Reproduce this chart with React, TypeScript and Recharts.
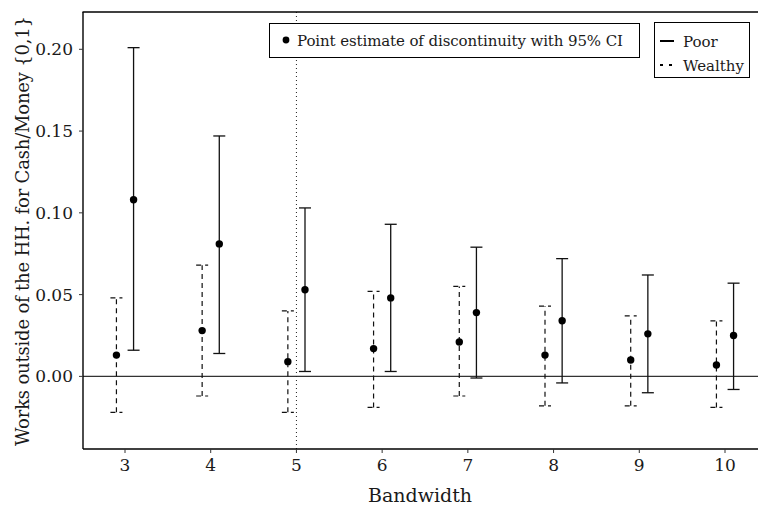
import React from "react";
import {
  ComposedChart,
  Scatter,
  ErrorBar,
  XAxis,
  YAxis,
  ReferenceLine,
} from "recharts";

const bandwidths = [3, 4, 5, 6, 7, 8, 9, 10];

const poorEst = [0.108, 0.081, 0.053, 0.048, 0.039, 0.034, 0.026, 0.025];
const poorLow = [0.016, 0.014, 0.003, 0.003, -0.001, -0.004, -0.010, -0.008];
const poorHigh = [0.201, 0.147, 0.103, 0.093, 0.079, 0.072, 0.062, 0.057];

const wealthyEst = [0.013, 0.028, 0.009, 0.017, 0.021, 0.013, 0.010, 0.007];
const wealthyLow = [-0.022, -0.012, -0.022, -0.019, -0.012, -0.018, -0.018, -0.019];
const wealthyHigh = [0.048, 0.068, 0.040, 0.052, 0.055, 0.043, 0.037, 0.034];

const yTicks = [0, 0.05, 0.1, 0.15, 0.2];

const DODGE = 0.1;
const FONT = "DejaVu Serif";
const INK = "#1a1a1a";

function build(est: number[], low: number[], high: number[], shift: number) {
  return bandwidths.map((bw, i) => ({
    x: bw + shift,
    y: est[i],
    err: [est[i] - low[i], high[i] - est[i]],
  }));
}

const wealthyData = build(wealthyEst, wealthyLow, wealthyHigh, -DODGE);
const poorData = build(poorEst, poorLow, poorHigh, DODGE);

const Dot = (props: any) => {
  const { cx, cy } = props;
  if (cx == null || cy == null) return null;
  return <circle cx={cx} cy={cy} r={3.7} fill="#000" />;
};

export default function App() {
  const tickStyle = { fontFamily: FONT, fontSize: 17, fill: INK };
  const txt = { fontFamily: FONT };
  return (
    <div style={{ position: "absolute", left: 0, top: 0, width: 758, height: 509, background: "#fff" }}>
      <ComposedChart
        width={758}
        height={509}
        margin={{ top: 12, right: 0, bottom: 0, left: 0 }}
      >
        <XAxis
          type="number"
          dataKey="x"
          domain={[2.51, 10.385]}
          ticks={bandwidths}
          allowDataOverflow
          height={60}
          tick={tickStyle}
          tickSize={4}
          tickMargin={6}
          axisLine={{ stroke: "#000", strokeWidth: 1.4 }}
          tickLine={{ stroke: "#333" }}
        />
        <YAxis
          type="number"
          domain={[-0.0444, 0.2228]}
          ticks={yTicks}
          allowDataOverflow
          width={83}
          tick={tickStyle}
          tickSize={4}
          tickMargin={6}
          tickFormatter={(v: number) => v.toFixed(2)}
          axisLine={{ stroke: "#000", strokeWidth: 1.4 }}
          tickLine={{ stroke: "#333" }}
        />
        <ReferenceLine y={0} stroke="#333" strokeWidth={1.2} />
        <ReferenceLine x={5} stroke="#222" strokeWidth={1} strokeDasharray="1 3" />
        <Scatter data={wealthyData} dataKey="y" shape={Dot} isAnimationActive={false}>
          <ErrorBar
            dataKey="err"
            direction="y"
            width={6}
            stroke="#111"
            strokeWidth={1.2}
            strokeDasharray="5 4"
            isAnimationActive={false}
          />
        </Scatter>
        <Scatter data={poorData} dataKey="y" shape={Dot} isAnimationActive={false}>
          <ErrorBar
            dataKey="err"
            direction="y"
            width={6}
            stroke="#111"
            strokeWidth={1.3}
            isAnimationActive={false}
          />
        </Scatter>
      </ComposedChart>
      <svg
        width={758}
        height={509}
        style={{ position: "absolute", left: 0, top: 0, pointerEvents: "none" }}
      >
        <line x1={82.5} y1={12} x2={758} y2={12} stroke="#000" strokeWidth={1.4} />
        <rect x={269.5} y={23.5} width={370} height={34} fill="#fff" stroke="#000" strokeWidth={1} />
        <circle cx={286} cy={40} r={3.4} fill="#000" />
        <text x={297} y={45.5} fontSize={15} fill={INK} textLength={326} style={txt}>
          Point estimate of discontinuity with 95% CI
        </text>
        <rect x={654.5} y={22.5} width={95} height={55} fill="#fff" stroke="#000" strokeWidth={1} />
        <line x1={660} y1={41} x2={674} y2={41} stroke="#000" strokeWidth={2} />
        <text x={683} y={46.5} fontSize={15} fill={INK} style={txt}>Poor</text>
        <line x1={660} y1={65} x2={674} y2={65} stroke="#000" strokeWidth={2} strokeDasharray="3 6" />
        <text x={683} y={70.5} fontSize={15} fill={INK} style={txt}>Wealthy</text>
        <text x={420} y={495} fontSize={19} fill={INK} textAnchor="middle" dominantBaseline="central" style={txt}>
          Bandwidth
        </text>
        <text
          x={22}
          y={231}
          fontSize={18}
          fill={INK}
          textAnchor="middle"
          dominantBaseline="central"
          transform="rotate(-90 22 231)"
          textLength={430}
          style={txt}
        >
          Works outside of the HH. for Cash/Money {"{0,1}"}
        </text>
      </svg>
    </div>
  );
}
